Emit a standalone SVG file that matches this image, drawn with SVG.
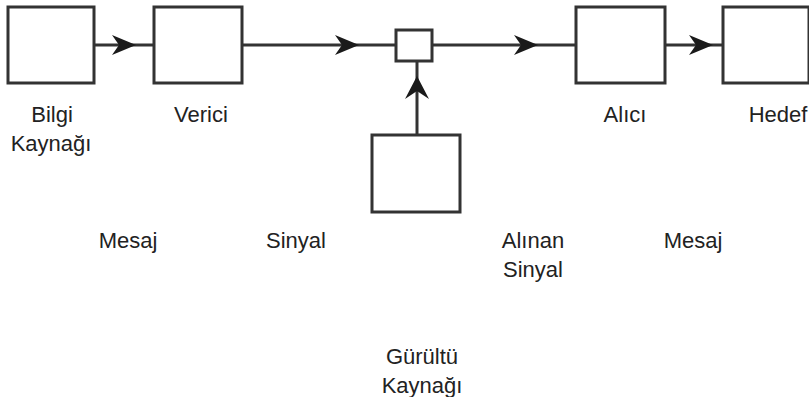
<svg xmlns="http://www.w3.org/2000/svg" width="809" height="397" viewBox="0 0 809 397">
<style>
.box{fill:#fff;stroke:#333;stroke-width:3}
.ln{stroke:#333;stroke-width:3;fill:none}
.ah{fill:#1a1a1a;stroke:none}
text{font-family:"Liberation Sans",Arial,sans-serif;font-size:22px;fill:#222;text-anchor:middle}
</style>
<g id="connectors">
<line class="ln" x1="94" y1="45" x2="154" y2="45"/>
<path class="ah" d="M136,45 L112,35 L119,45 L112,55 Z"/>
<line class="ln" x1="242" y1="45" x2="396" y2="45"/>
<path class="ah" d="M359,45 L335,35 L342,45 L335,55 Z"/>
<line class="ln" x1="432" y1="45" x2="576" y2="45"/>
<path class="ah" d="M538,45 L514,35 L521,45 L514,55 Z"/>
<line class="ln" x1="665" y1="45" x2="723" y2="45"/>
<path class="ah" d="M713,45 L689,35 L696,45 L689,55 Z"/>
<line class="ln" x1="417" y1="61" x2="417" y2="135"/>
<path class="ah" d="M417,76 L405,99 L417,91 L429,99 Z"/>
</g>
<g id="bilgi-kaynagi">
<rect class="box" x="8" y="7" width="86" height="76"/>
<text x="52" y="122">Bilgi</text>
<text x="51" y="151">Kaynağı</text>
</g>
<g id="verici">
<rect class="box" x="154" y="7" width="88" height="76"/>
<text x="201" y="122">Verici</text>
</g>
<g id="kanal">
<rect class="box" x="396" y="30" width="36" height="31"/>
</g>
<g id="alici">
<rect class="box" x="576" y="7" width="89" height="76"/>
<text x="625" y="122">Alıcı</text>
</g>
<g id="hedef">
<rect class="box" x="723" y="7" width="86" height="76"/>
<text x="778" y="122">Hedef</text>
</g>
<g id="gurultu-kaynagi">
<rect class="box" x="372" y="135" width="88" height="77"/>
<text x="422" y="364">Gürültü</text>
<text x="422" y="393">Kaynağı</text>
</g>
<g id="labels">
<text x="128" y="248">Mesaj</text>
<text x="296" y="248">Sinyal</text>
<text x="533" y="248">Alınan</text>
<text x="533" y="277">Sinyal</text>
<text x="693" y="248">Mesaj</text>
</g>
</svg>
